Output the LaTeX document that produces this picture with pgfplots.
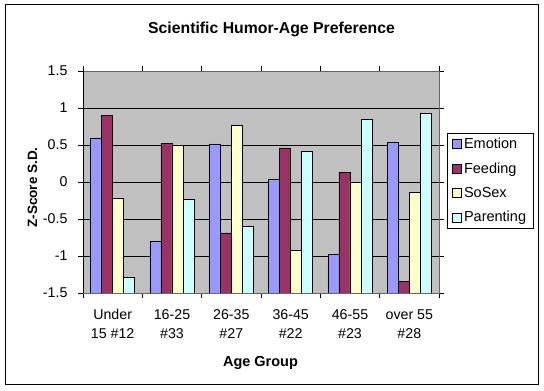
\documentclass[border=0pt]{standalone}
\usepackage{pgfplots}
\pgfplotsset{compat=1.18}
\usepackage{fontspec}
\setmainfont{Liberation Sans}
\definecolor{emo}{HTML}{9999FF}
\definecolor{fee}{HTML}{993366}
\definecolor{sos}{HTML}{FFFFCC}
\definecolor{par}{HTML}{CCFFFF}
\definecolor{plotbg}{HTML}{C0C0C0}
\begin{document}
\begin{tikzpicture}[x=1pt,y=1pt]
\path (0,0) rectangle (544,391);
\draw[black, line width=1pt] (5,6) rectangle (538,386);
\node[font=\bfseries\fontsize{15.8}{18}\selectfont, anchor=base] at (271.5,357) {Scientific Humor-Age Preference};
\node[font=\bfseries\fontsize{13.5}{16}\selectfont, rotate=90, anchor=base] at (37,203.5) {Z-Score S.D.};
\node[font=\bfseries\fontsize{14.5}{16}\selectfont, anchor=base] at (260.5,24) {Age Group};
\begin{axis}[
  at={(83pt,98pt)}, anchor=south west,
  scale only axis, width=356pt, height=222pt,
  ymin=0, ymax=3, xmin=-0.5, xmax=5.5,
  y filter/.expression={y+1.5},
  ybar=0pt, bar width=11pt,
  axis background/.style={fill=plotbg},
  axis line style={draw=gray!80!black, line width=0.8pt},
  ytick={0,0.5,1,1.5,2,2.5,3},
  yticklabels={-1.5,-1,-0.5,0,0.5,1,1.5},
  ymajorgrids, major grid style={black, line width=0.8pt},
  xtick={-0.5,0.5,1.5,2.5,3.5,4.5,5.5},
  xticklabels={},
  extra x ticks={0,1,2,3,4,5},
  extra x tick labels={{Under\\15 \#12},{16-25\\\#33},{26-35\\\#27},{36-45\\\#22},{46-55\\\#23},{over 55\\\#28}},
  extra x tick style={major tick length=0pt, grid=none},
  xticklabel style={align=center, font=\fontsize{14.2}{18.7}\selectfont, yshift=-13pt},
  yticklabel style={font=\fontsize{14.2}{16}\selectfont, xshift=-7pt},
  tick align=outside, major tick length=5pt,
  tick style={black, line width=0.8pt},
  legend style={at={(1.022,0.721)}, anchor=north west, draw=black, line width=0.8pt,
    font=\fontsize{14.5}{16}\selectfont, row sep=8.5pt, inner ysep=3pt, inner xsep=5pt,
    legend cell align=left},
  legend image code/.code={\draw[#1,draw=black,line width=0.8pt] (0pt,-4.5pt) rectangle (9pt,4.5pt);},
  every axis plot/.append style={draw=black, line width=0.8pt},
]
\addplot[fill=emo] coordinates {(0,0.595) (1,-0.797) (2,0.514) (3,0.04) (4,-0.973) (5,0.54)};
\addplot[fill=fee] coordinates {(0,0.905) (1,0.527) (2,-0.689) (3,0.46) (4,0.135) (5,-1.35)};
\addplot[fill=sos] coordinates {(0,-0.216) (1,0.5) (2,0.77) (3,-0.92) (4,0.0) (5,-0.135)};
\addplot[fill=par] coordinates {(0,-1.284) (1,-0.23) (2,-0.595) (3,0.42) (4,0.85) (5,0.93)};
\legend{Emotion,Feeding,SoSex,Parenting}
\draw[black, line width=0.8pt] (rel axis cs:0,1) -- (rel axis cs:0,0) -- (rel axis cs:1,0);
\end{axis}
\end{tikzpicture}
\end{document}
